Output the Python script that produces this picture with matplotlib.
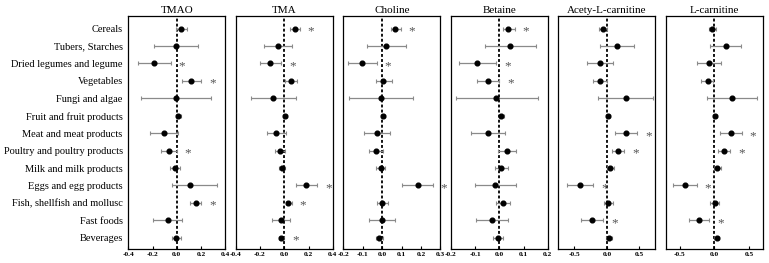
import numpy as np
import matplotlib
matplotlib.use("Agg")
import matplotlib.pyplot as plt
from matplotlib import rcParams
rcParams["font.family"] = "Liberation Serif"
rcParams["axes.unicode_minus"] = False

foods = ["Cereals", "Tubers, Starches", "Dried legumes and legume", "Vegetables",
         "Fungi and algae", "Fruit and fruit products", "Meat and meat products",
         "Poultry and poultry products", "Milk and milk products", "Eggs and egg products",
         "Fish, shellfish and mollusc", "Fast foods", "Beverages"]

# point estimate, lower and upper CI per metabolite
tmao_est = [0.036, -0.008, -0.184, 0.121, -0.005, 0.014, -0.107, -0.063, -0.014, 0.110, 0.157, -0.074, -0.005]
tmao_lo = [-0.008, -0.184, -0.322, 0.044, -0.297, -0.008, -0.223, -0.132, -0.055, -0.036, 0.107, -0.192, -0.038]
tmao_hi = [0.088, 0.173, -0.049, 0.203, 0.286, 0.036, 0.008, 0.000, 0.027, 0.333, 0.203, 0.047, 0.033]
tmao_sig = [2, 3, 7, 10]

tma_est = [0.088, -0.052, -0.115, 0.055, -0.091, 0.005, -0.066, -0.038, -0.019, 0.181, 0.033, -0.027, -0.027]
tma_lo = [0.049, -0.165, -0.200, 0.008, -0.275, -0.008, -0.140, -0.080, -0.047, 0.096, 0.014, -0.102, -0.047]
tma_hi = [0.126, 0.063, -0.025, 0.104, 0.099, 0.022, 0.014, 0.003, 0.008, 0.272, 0.063, 0.049, 0.000]
tma_sig = [0, 2, 9, 10, 12]

cho_est = [0.069, 0.021, -0.102, 0.007, -0.007, 0.003, -0.024, -0.029, -0.007, 0.183, 0.002, -0.002, -0.016]
cho_lo = [0.047, -0.076, -0.176, -0.034, -0.171, -0.007, -0.091, -0.067, -0.033, 0.105, -0.026, -0.067, -0.034]
cho_hi = [0.097, 0.121, -0.028, 0.052, 0.157, 0.013, 0.043, 0.003, 0.016, 0.260, 0.029, 0.064, 0.003]
cho_sig = [0, 2, 9]

bet_est = [0.035, 0.046, -0.092, -0.046, -0.013, 0.007, -0.047, 0.031, 0.008, -0.019, 0.014, -0.031, -0.007]
bet_lo = [0.015, -0.058, -0.167, -0.092, -0.180, -0.003, -0.118, -0.006, -0.017, -0.101, -0.013, -0.097, -0.026]
bet_hi = [0.063, 0.150, -0.013, -0.001, 0.158, 0.018, 0.025, 0.069, 0.035, 0.067, 0.044, 0.036, 0.014]
bet_sig = [0, 2, 3]

alc_est = [-0.062, 0.165, -0.098, -0.103, 0.299, 0.021, 0.304, 0.170, 0.052, -0.412, 0.021, -0.232, 0.031]
alc_lo = [-0.124, -0.098, -0.299, -0.216, -0.129, -0.010, 0.129, 0.077, 0.005, -0.613, -0.046, -0.392, -0.005]
alc_hi = [0.005, 0.423, 0.098, 0.005, 0.716, 0.050, 0.469, 0.268, 0.108, -0.211, 0.098, -0.057, 0.077]
alc_sig = [6, 7, 9, 11]

lc_est = [-0.038, 0.163, -0.082, -0.091, 0.260, 0.005, 0.240, 0.139, 0.043, -0.428, 0.005, -0.221, 0.034]
lc_lo = [-0.072, -0.058, -0.250, -0.192, -0.101, -0.019, 0.087, 0.058, -0.005, -0.601, -0.058, -0.361, -0.005]
lc_hi = [0.019, 0.380, 0.091, -0.019, 0.620, 0.034, 0.399, 0.231, 0.096, -0.255, 0.062, -0.072, 0.072]
lc_sig = [6, 7, 9, 11]

panels = [
    ("TMAO", tmao_est, tmao_lo, tmao_hi, tmao_sig, (-0.4, 0.4), [-0.4, -0.2, 0.0, 0.2, 0.4]),
    ("TMA", tma_est, tma_lo, tma_hi, tma_sig, (-0.4, 0.4), [-0.4, -0.2, 0.0, 0.2, 0.4]),
    ("Choline", cho_est, cho_lo, cho_hi, cho_sig, (-0.2, 0.3), [-0.2, -0.1, 0.0, 0.1, 0.2, 0.3]),
    ("Betaine", bet_est, bet_lo, bet_hi, bet_sig, (-0.2, 0.2), [-0.2, -0.1, 0.0, 0.1, 0.2]),
    ("Acety-L-carnitine", alc_est, alc_lo, alc_hi, alc_sig, (-0.75, 0.75), [-0.5, 0.0, 0.5]),
    ("L-carnitine", lc_est, lc_lo, lc_hi, lc_sig, (-0.7, 0.7), [-0.5, 0.0, 0.5]),
]

fig, axes = plt.subplots(1, 6, figsize=(7.69, 2.63), dpi=100)
fig.subplots_adjust(left=0.1668, right=0.992, bottom=0.053, top=0.939, wspace=0.108)

y = np.arange(len(foods))
for i, (ax, (name, est, lo, hi, sig, xlim, ticks)) in enumerate(zip(axes, panels)):
    est = np.array(est)
    lo = np.array(lo)
    hi = np.array(hi)
    ax.axvline(0, color="black", lw=1.3, ls=(0, (1.6, 1.2)), zorder=1)
    ax.errorbar(est, y, xerr=[est - lo, hi - est], fmt="none", ecolor="#8a8a8a",
                elinewidth=0.9, capsize=1.6, capthick=0.8, zorder=2)
    ax.plot(est, y, "o", color="black", ms=3.4, zorder=3)
    for k in sig:
        ax.annotate("*", xy=(hi[k], y[k]), xytext=(8, -2), textcoords="offset points",
                    ha="center", va="center", fontsize=9.5, color="#555555")
    ax.set_xlim(*xlim)
    ax.set_ylim(len(foods) - 0.35, -0.72)
    ax.set_xticks(ticks)
    ax.set_xticklabels(["%.1f" % t for t in ticks], fontsize=5.3, fontweight="bold")
    ax.tick_params(axis="x", direction="in", length=2.5, width=0.8, pad=2)
    ax.set_title(name, fontsize=8, pad=2)
    for s in ax.spines.values():
        s.set_linewidth(0.9)
    if i == 0:
        ax.set_yticks(y)
        ax.set_yticklabels(foods, fontsize=7.5)
        ax.tick_params(axis="y", length=0, pad=4)
    else:
        ax.set_yticks([])

plt.savefig("out.png", dpi=100)
